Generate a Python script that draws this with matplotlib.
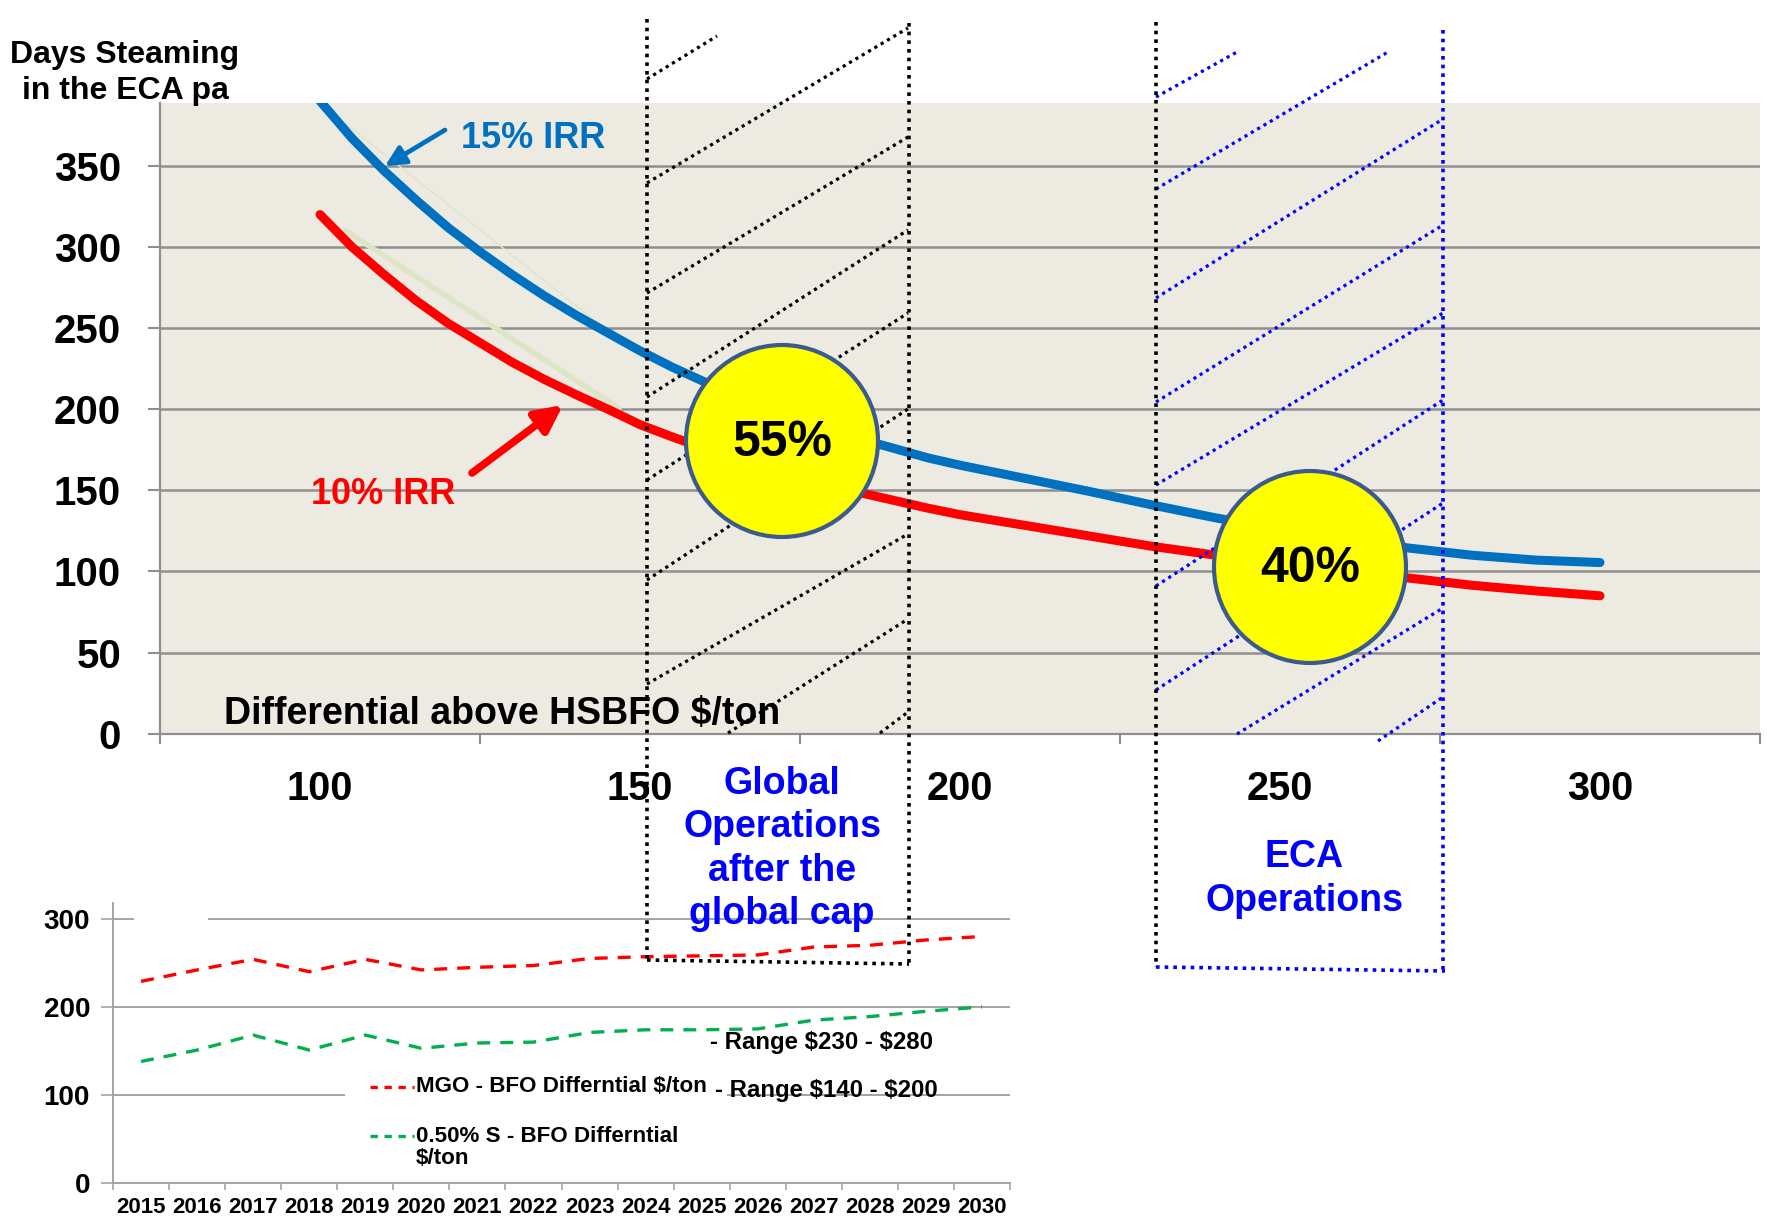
import matplotlib
matplotlib.use('Agg')
import matplotlib.pyplot as plt
from matplotlib.patches import Circle, Rectangle

plt.rcParams['font.family'] = ['Liberation Sans', 'DejaVu Sans']
plt.rcParams['font.weight'] = 'bold'

# ── Data ──────────────────────────────────────────────────────────────────────
# differential above HSBFO ($/ton) vs days steaming in the ECA per year
diff_usd   = [100, 105, 110, 115, 120, 125, 130, 135, 140, 145, 150,
              155, 160, 165, 170, 175, 180, 185, 190, 195, 200,
              210, 220, 230, 240, 250, 260, 270, 280, 290, 300]
days_irr15 = [390, 367, 347, 329, 312, 297, 283, 270, 258, 247, 236,
              226, 217, 209, 201, 194, 187, 181, 175.5, 170, 165.5,
              157.5, 149.5, 141, 133, 126, 120, 114.5, 110, 107, 105.5]
days_irr10 = [320, 300, 283, 267, 253, 241, 229, 218.5, 209, 200, 190.5,
              183, 176, 170, 164, 158.5, 153, 148, 143.5, 139, 135,
              128.5, 122, 115.5, 110, 105, 100.5, 96, 91.5, 88, 85]

# faint trend segments sitting next to the curves
trend_lo_x = [104, 146.7]
trend_lo_y = [310, 200.7]
trend_hi_x = [104, 144.2]
trend_hi_y = [376, 250.8]

# fuel price differentials, inset chart
years    = ['2015', '2016', '2017', '2018', '2019', '2020', '2021', '2022',
            '2023', '2024', '2025', '2026', '2027', '2028', '2029', '2030']
mgo_bfo  = [229, 242, 254, 240, 254, 242, 245, 247, 255, 257, 258, 259, 268, 270, 276, 280]
lsfo_bfo = [138, 151, 168, 151, 168, 153, 159, 160, 171, 174, 174, 175, 185, 189, 195, 200]

# ── Style ─────────────────────────────────────────────────────────────────────
BLUE    = '#0070C0'
RED     = '#FF0000'
GREEN   = '#00B050'
PURE_B  = '#0000FF'
BG      = '#EDEBE1'
GRID    = '#8F8F8F'
CIRCLE_EDGE = '#3A5B8C'
DOT     = (0, (1, 1.4))
HATCH   = (0, (1, 1.3))
DASH    = (0, (3.9, 3.0))

W, H = 1767, 1225
fig = plt.figure(figsize=(W / 100, H / 100), dpi=100)


def px_rect(left, top, right, bottom):
    return [left / W, 1 - bottom / H, (right - left) / W, (bottom - top) / H]


# ── Main chart ────────────────────────────────────────────────────────────────
ax = fig.add_axes(px_rect(160, 102.6, 1760, 733.7))
ax.set_facecolor(BG)
ax.set_xlim(75, 325)
ax.set_ylim(0, 389)

ax.plot(trend_hi_x, trend_hi_y, color='#DCE6C6', lw=1.0, zorder=2)
ax.plot(trend_lo_x, trend_lo_y, color='#DCE6C6', lw=4, zorder=2)
ax.plot(diff_usd, days_irr15, color=BLUE, lw=6.5, solid_capstyle='round',
        solid_joinstyle='round', zorder=3)
ax.plot(diff_usd, days_irr10, color=RED, lw=6.5, solid_capstyle='round',
        solid_joinstyle='round', zorder=3)

ax.set_yticks(range(0, 351, 50))
ax.grid(axis='y', color=GRID, lw=1.8)
ax.set_axisbelow(True)
for side in ('top', 'right'):
    ax.spines[side].set_visible(False)
for side in ('left', 'bottom'):
    ax.spines[side].set_color(GRID)
    ax.spines[side].set_linewidth(1.6)

ax.set_xticks(range(75, 326, 50))
ax.set_xticklabels([])
ax.set_xticks(range(100, 301, 50), minor=True)
ax.set_xticklabels([str(v) for v in range(100, 301, 50)], minor=True)
ax.tick_params(axis='x', which='major', length=7.5, width=1.5, color=GRID)
ax.tick_params(axis='x', which='minor', length=0, pad=26, labelsize=28.5)
ax.tick_params(axis='y', length=9, width=1.5, color=GRID, pad=19, labelsize=29)

ax.text(0.04, 0.031, 'Differential above HSBFO $/ton', transform=ax.transAxes,
        fontsize=27, ha='left', va='center', color='black', zorder=4)

# ── Inset: fuel differentials ────────────────────────────────────────────────
ix = fig.add_axes(px_rect(113, 903, 1010, 1183))
ix.set_xlim(-0.5, len(years) - 0.5)
ix.set_ylim(0, 318)
pos = list(range(len(years)))
ix.plot(pos, mgo_bfo, color=RED, lw=2.4, ls=DASH)
ix.plot(pos, lsfo_bfo, color=GREEN, lw=2.4, ls=DASH)

ix.set_yticks([0, 100, 200, 300])
ix.grid(axis='y', color='#A3A3A3', lw=1.4)
ix.set_axisbelow(True)
for side in ('top', 'right'):
    ix.spines[side].set_visible(False)
for side in ('left', 'bottom'):
    ix.spines[side].set_color('#A3A3A3')
    ix.spines[side].set_linewidth(1.4)
ix.set_xticks([p - 0.5 for p in range(len(years) + 1)])
ix.set_xticklabels([])
ix.set_xticks(pos, minor=True)
ix.set_xticklabels(years, minor=True)
ix.tick_params(axis='x', which='major', length=5, width=1.2, color='#A3A3A3')
ix.tick_params(axis='x', which='minor', length=0, pad=10, labelsize=16)
ix.tick_params(axis='y', length=8.5, width=1.2, color='#A3A3A3', pad=8, labelsize=20)

# ── Overlay in figure pixels: regions, callouts, labels ─────────────────────
ov = fig.add_axes([0, 0, 1, 1])
ov.set_xlim(0, W)
ov.set_ylim(H, 0)
ov.axis('off')
ov.patch.set_alpha(0)

# blank patches over the inset gridlines (legend area)
ov.add_patch(Rectangle((345, 1060), 382, 118, facecolor='white', edgecolor='none', zorder=1))
ov.add_patch(Rectangle((134, 905), 74, 28, facecolor='white', edgecolor='none', zorder=1))

# inset legend and range notes
ov.plot([370, 414], [1087, 1087], color=RED, lw=2.4, ls=(0, (2.2, 2)), zorder=2)
ov.plot([370, 414], [1136, 1136], color=GREEN, lw=2.4, ls=(0, (2.2, 2)), zorder=2)
ov.text(416, 1087, 'MGO - BFO Differntial $/ton', fontsize=16.1, va='center', zorder=2)
ov.text(416, 1136, '0.50% S - BFO Differntial', fontsize=16.1, va='center', zorder=2)
ov.text(416, 1158, '$/ton', fontsize=16.1, va='center', zorder=2)
ov.text(710, 1043, r'- Range \$230 - \$280', fontsize=17.3, va='center', zorder=2)
ov.text(715, 1091, r'- Range \$140 - \$200', fontsize=17.3, va='center', zorder=2)

# hatched "global" band
global_hatch = [((647, 79), (717, 36)), ((647, 183), (908, 28)), ((647, 293), (908, 137)),
                ((647, 397), (908, 230)), ((647, 480), (908, 313)), ((647, 580), (908, 409)),
                ((647, 684), (908, 534)), ((728, 733), (908, 619)), ((880, 733), (908, 712))]
for (x0, y0), (x1, y1) in global_hatch:
    ov.plot([x0, x1], [y0, y1], color='black', lw=2.3, ls=HATCH, zorder=3)
ov.plot([647, 647], [19, 962], color='black', lw=2.6, ls=DOT, zorder=3)
ov.plot([909, 909], [23, 964], color='black', lw=2.6, ls=DOT, zorder=3)
ov.plot([647, 909], [960, 964], color='black', lw=2.6, ls=DOT, zorder=3)

# hatched ECA band
eca_hatch = [((1156, 97), (1237, 52)), ((1156, 189), (1388, 52)), ((1156, 298), (1443, 119)),
             ((1156, 402), (1443, 225)), ((1156, 485), (1443, 313)), ((1156, 586), (1443, 400)),
             ((1156, 690), (1443, 503)), ((1237, 734), (1443, 608)), ((1378, 741), (1443, 697))]
for (x0, y0), (x1, y1) in eca_hatch:
    ov.plot([x0, x1], [y0, y1], color=PURE_B, lw=2.3, ls=HATCH, zorder=3)
ov.plot([1156, 1156], [22, 967], color='black', lw=2.6, ls=DOT, zorder=3)
ov.plot([1443, 1443], [30, 971], color=PURE_B, lw=2.6, ls=DOT, zorder=3)
ov.plot([1156, 1445], [967, 971], color=PURE_B, lw=2.6, ls=DOT, zorder=3)

ov.text(782, 849, 'Global\nOperations\nafter the\nglobal cap', color=PURE_B,
        fontsize=27, ha='center', va='center', linespacing=1.27, zorder=6)
ov.text(1304, 879, 'ECA\nOperations', color=PURE_B,
        fontsize=27, ha='center', va='center', linespacing=1.27, zorder=6)

# share callouts
for (cx, cy), label in [((782, 441), '55%'), ((1310, 567), '40%')]:
    ov.add_patch(Circle((cx, cy), 96, facecolor='#FFFF00', edgecolor=CIRCLE_EDGE,
                        lw=3, zorder=5))
    ov.text(cx, cy + 2, label, fontsize=36, ha='center', va='center', zorder=6)

# curve labels with arrows
ov.annotate('', xy=(385, 166), xytext=(445, 130),
            arrowprops=dict(arrowstyle='-|>', color=BLUE, lw=3.4,
                            mutation_scale=30, shrinkA=0, shrinkB=0), zorder=6)
ov.text(533, 138, '15% IRR', color=BLUE, fontsize=26, ha='center', va='center', zorder=6)
ov.annotate('', xy=(563, 405), xytext=(472, 473),
            arrowprops=dict(arrowstyle='-|>', color=RED, lw=5.5,
                            mutation_scale=40, shrinkA=0, shrinkB=0), zorder=6)
ov.text(383, 495, '10% IRR', color=RED, fontsize=26, ha='center', va='center', zorder=6)

ov.text(125, 73, 'Days Steaming\nin the ECA pa', fontsize=23, ha='center',
        va='center', linespacing=1.22, zorder=6)

fig.savefig('out.png', dpi=100, facecolor='white')
